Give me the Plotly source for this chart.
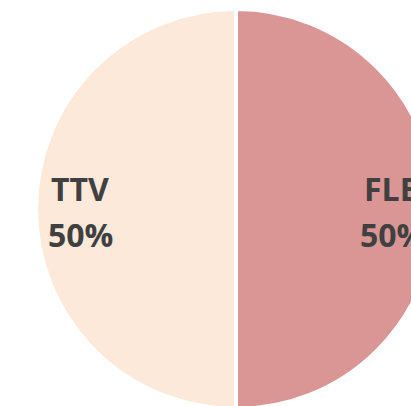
import plotly.graph_objects as go

labels = ["FLB", "TTV"]
values = [50, 50]
colors = ["#D99694", "#FDE9D9"]

fig = go.Figure()

fig.add_trace(go.Pie(labels=labels, values=values, sort=False,
                     direction='clockwise', rotation=0,
                     marker=dict(colors=colors, line=dict(color='white', width=4)),
                     textinfo='none',
                     domain=dict(x=[0, 1], y=[9 / 418, 409 / 418]),
                     hoverinfo='skip', showlegend=False))

# labels placed by hand, FLB on the right, TTV on the left
total = sum(values)
for lab, val, side in zip(labels, values, [1, -1]):
    pct = f"{round(100 * val / total)}%"
    for txt, dy in [(lab, 21), (pct, -25)]:
        fig.add_annotation(text=txt, x=0.5, y=0.5, xref='paper', yref='paper',
                           xshift=side * 156, yshift=dy, showarrow=False,
                           xanchor='center', yanchor='middle',
                           font=dict(family='Open Sans', size=32, color='#404040', weight='bold'))

fig.update_layout(
    width=472, height=418,
    margin=dict(l=0, r=0, t=0, b=0),
    paper_bgcolor='white',
    showlegend=False
)

# the pie runs past the window edge, so drop page margin and scrollbars
fig.write_html("out.html", post_script="document.body.style.margin='0';"
                                       "document.body.style.overflow='hidden';"
                                       "document.documentElement.style.overflow='hidden';")
